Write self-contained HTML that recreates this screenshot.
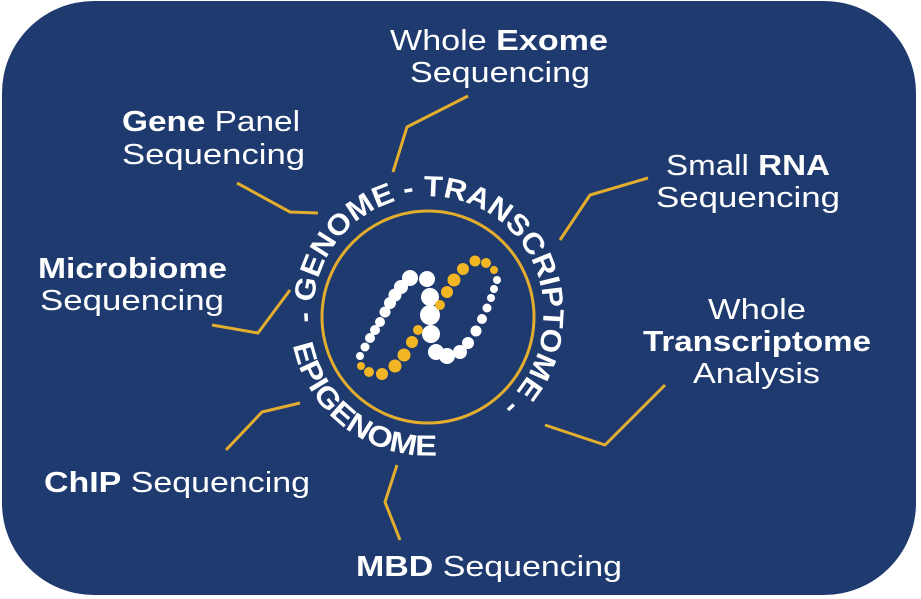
<!DOCTYPE html>
<html><head><meta charset="utf-8"><style>
html,body{margin:0;padding:0;background:#fff;}
svg{display:block;}
text{font-family:"Liberation Sans","DejaVu Sans",sans-serif;fill:#fff;}
</style></head><body>
<svg width="921" height="599" viewBox="0 0 921 599" xmlns="http://www.w3.org/2000/svg">
<rect x="2" y="1" width="914" height="594" rx="92" ry="92" fill="#1e3a6e"/>
<g stroke="#e3ad2f" stroke-width="3" fill="none" stroke-linejoin="round">
<polyline points="393,172 407,127 468,96"/>
<polyline points="237,183 290,212 318,213"/>
<polyline points="560,240 590,195 648,178"/>
<polyline points="212,325 258,333 290,290"/>
<polyline points="545,425 605,445 665,385"/>
<polyline points="226,450 262,412 300,403"/>
<polyline points="397,465 385,502 400,540"/>
</g>
<circle cx="428" cy="317" r="106" fill="none" stroke="#e3ad2f" stroke-width="3"/>
<defs>
<path id="top" d="M314,322 A115,115 0 1 1 543,322 A115,115 0 0 1 428,432"/>
<path id="bot" d="M293,345 A137,137 0 0 0 466,450"/>
</defs>
<text font-size="29" font-weight="bold"><textPath href="#top" textLength="478" lengthAdjust="spacingAndGlyphs">- GENOME - TRANSCRIPTOME -</textPath></text>
<text font-size="29" font-weight="bold"><textPath href="#bot" textLength="198" lengthAdjust="spacingAndGlyphs">EPIGENOME</textPath></text>
<g fill="#fff">
<circle cx="360" cy="356" r="4"/><circle cx="365" cy="347" r="4.5"/><circle cx="370" cy="338" r="5"/><circle cx="375" cy="330" r="5"/><circle cx="380" cy="322" r="5"/><circle cx="385" cy="312" r="5.5"/><circle cx="390" cy="303" r="6"/><circle cx="395" cy="295" r="6.5"/><circle cx="401" cy="287" r="7"/><circle cx="410" cy="278" r="8"/><circle cx="427" cy="279" r="8"/>
<circle cx="430" cy="297" r="9"/><circle cx="430" cy="315" r="10"/><circle cx="431" cy="334" r="9"/><circle cx="436" cy="352" r="8"/>
<circle cx="447" cy="356" r="8"/><circle cx="460" cy="352" r="7"/><circle cx="468" cy="343" r="6"/><circle cx="476" cy="331" r="5.5"/><circle cx="482" cy="319" r="5"/><circle cx="487" cy="308" r="4.5"/><circle cx="491" cy="298" r="4"/><circle cx="494" cy="289" r="4"/><circle cx="497" cy="280" r="4"/>
</g>
<g fill="#f2b624">
<circle cx="361" cy="366" r="4"/><circle cx="369" cy="372" r="5"/><circle cx="382" cy="374" r="6"/><circle cx="395" cy="366" r="6.5"/><circle cx="404" cy="355" r="6.5"/><circle cx="412" cy="342" r="6"/><circle cx="418" cy="330" r="5"/>
<circle cx="440" cy="305" r="5"/><circle cx="447" cy="292" r="6"/><circle cx="454" cy="280" r="6.5"/><circle cx="463" cy="269" r="6"/><circle cx="475" cy="261" r="5.5"/><circle cx="486" cy="263" r="5"/><circle cx="494" cy="270" r="4"/>
</g>
<g font-size="29">
<text x="390" y="50" textLength="218" lengthAdjust="spacingAndGlyphs">Whole <tspan font-weight="bold">Exome</tspan></text>
<text x="410" y="82" textLength="180" lengthAdjust="spacingAndGlyphs">Sequencing</text>
<text x="122" y="131" textLength="178" lengthAdjust="spacingAndGlyphs"><tspan font-weight="bold">Gene</tspan> Panel</text>
<text x="122" y="164" textLength="183" lengthAdjust="spacingAndGlyphs">Sequencing</text>
<text x="666" y="175" textLength="164" lengthAdjust="spacingAndGlyphs">Small <tspan font-weight="bold">RNA</tspan></text>
<text x="656" y="207" textLength="184" lengthAdjust="spacingAndGlyphs">Sequencing</text>
<text x="38" y="278" font-weight="bold" textLength="189" lengthAdjust="spacingAndGlyphs">Microbiome</text>
<text x="40" y="310" textLength="184" lengthAdjust="spacingAndGlyphs">Sequencing</text>
<text x="708" y="319" textLength="98" lengthAdjust="spacingAndGlyphs">Whole</text>
<text x="643" y="351" font-weight="bold" textLength="228" lengthAdjust="spacingAndGlyphs">Transcriptome</text>
<text x="693" y="383" textLength="127" lengthAdjust="spacingAndGlyphs">Analysis</text>
<text x="44" y="492" textLength="266" lengthAdjust="spacingAndGlyphs"><tspan font-weight="bold">ChIP</tspan> Sequencing</text>
<text x="356" y="576" textLength="266" lengthAdjust="spacingAndGlyphs"><tspan font-weight="bold">MBD</tspan> Sequencing</text>
</g>
</svg>
</body></html>
